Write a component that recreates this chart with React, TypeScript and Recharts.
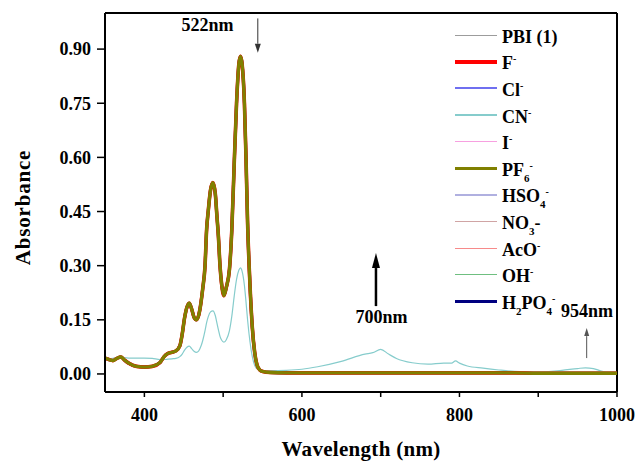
import React from 'react';
import { LineChart, Line, XAxis, YAxis, ReferenceLine, ReferenceDot, Legend } from 'recharts';

const wavelengths = [350,355,360,365,370,375,380,390,400,410,420,425,430,435,440,445,448,451,454,457,460,463,466,469,472,474,477,479,481,484,487,490,492,494,496,498,501,504,508,511,514,517,520,522,524,527,529,531,534,537,540,543,547,550,560,580,600,620,650,680,690,700,710,720,740,760,780,790,795,800,810,830,850,870,900,930,950,960,970,980,990,1000];

const mainAbs = [0.044,0.040,0.037,0.043,0.047,0.038,0.030,0.021,0.019,0.021,0.032,0.048,0.057,0.060,0.064,0.078,0.110,0.155,0.185,0.196,0.180,0.157,0.150,0.163,0.200,0.235,0.300,0.400,0.450,0.510,0.530,0.500,0.440,0.380,0.300,0.250,0.217,0.240,0.290,0.400,0.580,0.750,0.860,0.880,0.860,0.750,0.600,0.420,0.250,0.130,0.060,0.025,0.010,0.007,0.004,0.003,0.003,0.003,0.003,0.003,0.003,0.003,0.003,0.003,0.003,0.003,0.003,0.003,0.003,0.003,0.003,0.003,0.003,0.003,0.002,0.002,0.002,0.002,0.002,0.002,0.002,0.002];

const cnAbs = [0.043,0.042,0.043,0.046,0.048,0.045,0.044,0.044,0.044,0.043,0.040,0.040,0.041,0.042,0.043,0.048,0.055,0.066,0.074,0.077,0.070,0.063,0.060,0.064,0.078,0.092,0.120,0.142,0.158,0.172,0.175,0.162,0.142,0.122,0.104,0.094,0.088,0.095,0.120,0.160,0.215,0.262,0.288,0.294,0.285,0.245,0.200,0.150,0.090,0.048,0.024,0.014,0.010,0.009,0.009,0.010,0.013,0.020,0.035,0.055,0.059,0.068,0.055,0.043,0.031,0.027,0.030,0.030,0.036,0.030,0.022,0.016,0.011,0.007,0.005,0.010,0.015,0.017,0.015,0.008,0.004,0.003];

const yTicks = [0, 0.15, 0.3, 0.45, 0.6, 0.75, 0.9];
const xTicks = [400, 500, 600, 700, 800, 900, 1000];
const xLabeled = [400, 600, 800, 1000];

const FONT = 'Liberation Serif, Tinos, DejaVu Serif, serif';

const sup = (t: string) => <span style={{ fontSize: 10, position: 'relative', top: -7 }}>{t}</span>;
const sub = (t: string) => <span style={{ fontSize: 11, position: 'relative', top: 6 }}>{t}</span>;

type Series = { key: string; label: React.ReactNode; color: string; width: number; values: number[] };

const series: Series[] = [
  { key: 'pbi', label: <>PBI (1)</>, color: '#9c9c9c', width: 1, values: mainAbs },
  { key: 'f', label: <>F{sup('-')}</>, color: '#ff0000', width: 3.6, values: mainAbs },
  { key: 'cl', label: <>Cl{sup('-')}</>, color: '#6f6ff0', width: 2, values: mainAbs },
  { key: 'cn', label: <>CN{sup('-')}</>, color: '#86cccc', width: 1.2, values: cnAbs },
  { key: 'i', label: <>I{sup('-')}</>, color: '#f7a0e0', width: 1.5, values: mainAbs },
  { key: 'pf6', label: <>PF{sub('6')}{sup('-')}</>, color: '#808000', width: 3.3, values: mainAbs },
  { key: 'hso4', label: <>HSO{sub('4')}{sup('-')}</>, color: '#b0b0e0', width: 1.5, values: mainAbs },
  { key: 'no3', label: <>NO{sub('3')}-</>, color: '#d0a4a4', width: 1.5, values: mainAbs },
  { key: 'aco', label: <>AcO{sup('-')}</>, color: '#f78a8a', width: 1, values: mainAbs },
  { key: 'oh', label: <>OH{sup('-')}</>, color: '#6fbf80', width: 1, values: mainAbs },
  { key: 'h2po4', label: <>H{sub('2')}PO{sub('4')}{sup('-')}</>, color: '#000080', width: 3, values: mainAbs },
];

const drawOrder = ['h2po4', 'pbi', 'cl', 'i', 'hso4', 'no3', 'aco', 'oh', 'cn', 'f', 'pf6'];

const data = wavelengths.map((w, i) => {
  const row: Record<string, number> = { w };
  series.forEach((s) => { row[s.key] = s.values[i]; });
  return row;
});

const makeArrow = (color: string, sw: number, headL: number, headW: number) => (p: any) => {
  const { x1, y1, x2, y2 } = p;
  const dir = y2 > y1 ? 1 : -1;
  const baseY = y2 - dir * headL;
  return (
    <g>
      <line x1={x1} y1={y1} x2={x2} y2={baseY} stroke={color} strokeWidth={sw} />
      <polygon points={`${x2},${y2} ${x2 - headW / 2},${baseY} ${x2 + headW / 2},${baseY}`} fill={color} />
    </g>
  );
};

const makeText = (t: string) => (p: any) => (
  <text x={p.cx} y={p.cy} textAnchor="middle" style={{ fontFamily: FONT, fontWeight: 'bold', fontSize: 18 }} fill="#000">{t}</text>
);

const renderLegend = () => (
  <div style={{ fontFamily: FONT, fontWeight: 'bold', fontSize: 18, color: '#000' }}>
    {series.map((s) => (
      <div key={s.key} style={{ display: 'flex', alignItems: 'center', height: 26.6 }}>
        <div style={{ width: 42, height: Math.max(1, s.width), background: s.color, marginRight: 5 }} />
        <span style={{ lineHeight: 1, paddingTop: 3, whiteSpace: 'nowrap' }}>{s.label}</span>
      </div>
    ))}
  </div>
);

const YLabel = (props: any) => {
  const vb = props.viewBox || { x: 0, y: 13, width: 105, height: 379 };
  const x = vb.x + 23;
  const y = vb.y + vb.height / 2 + 5;
  return (
    <text x={x} y={y} transform={`rotate(-90 ${x} ${y})`} textAnchor="middle" dominantBaseline="central"
      style={{ fontFamily: FONT, fontWeight: 'bold', fontSize: 21, letterSpacing: 0.8 }} fill="#000">Absorbance</text>
  );
};

export default function App() {
  const tickStyle = { style: { fontFamily: FONT, fontWeight: 'bold' as const, fontSize: 18 }, fill: '#000' };
  return (
    <div style={{ position: 'absolute', left: 0, top: 0, background: '#fff', fontFamily: FONT }}>
      <LineChart width={639} height={461} data={data} margin={{ top: 13, right: 22, bottom: 0, left: 0 }} style={{ fontFamily: FONT }}>
        <XAxis
          dataKey="w"
          type="number"
          domain={[350, 1000]}
          ticks={xTicks}
          tickFormatter={(v: number) => (xLabeled.includes(v) ? String(v) : '')}
          height={69}
          tickSize={5}
          tickMargin={11}
          tick={tickStyle}
          stroke="#000"
          strokeWidth={2}
          tickLine={{ stroke: '#000', strokeWidth: 1.5 }}
          allowDataOverflow
          label={{ value: 'Wavelength (nm)', position: 'insideBottom', offset: 5, style: { fontFamily: FONT, fontWeight: 'bold', fontSize: 21, letterSpacing: 0.3 }, fill: '#000' }}
        />
        <YAxis
          type="number"
          domain={[-0.05, 1.0]}
          ticks={yTicks}
          tickFormatter={(v: number) => v.toFixed(2)}
          width={105}
          tickSize={8}
          tickMargin={6}
          tick={tickStyle}
          stroke="#000"
          strokeWidth={2}
          tickLine={{ stroke: '#000', strokeWidth: 1.5 }}
          allowDataOverflow
          label={<YLabel />}
        />
        <ReferenceLine y={1.0} stroke="#000" strokeWidth={2} />
        <ReferenceLine x={1000} stroke="#000" strokeWidth={2} />
        {drawOrder.map((k) => {
          const s = series.find((q) => q.key === k)!;
          return (
            <Line key={k} dataKey={k} type="monotone" stroke={s.color} strokeWidth={s.width} dot={false} isAnimationActive={false} />
          );
        })}
        <ReferenceLine segment={[{ x: 544, y: 0.985 }, { x: 544, y: 0.89 }]} shape={makeArrow('#333', 1, 9, 6)} />
        <ReferenceLine segment={[{ x: 694, y: 0.188 }, { x: 694, y: 0.335 }]} shape={makeArrow('#000', 2.5, 15, 8)} />
        <ReferenceLine segment={[{ x: 961.5, y: 0.044 }, { x: 961.5, y: 0.127 }]} shape={makeArrow('#555', 1, 8, 5)} />
        <ReferenceDot x={480} y={0.949} r={1} shape={makeText('522nm')} />
        <ReferenceDot x={701} y={0.142} r={1} shape={makeText('700nm')} />
        <ReferenceDot x={962} y={0.159} r={1} shape={makeText('954nm')} />
        <Legend
          layout="horizontal"
          verticalAlign="middle"
          align="center"
          content={renderLegend}
          wrapperStyle={{ top: 22, left: 455, width: 180, height: 300 }}
        />
      </LineChart>
    </div>
  );
}
